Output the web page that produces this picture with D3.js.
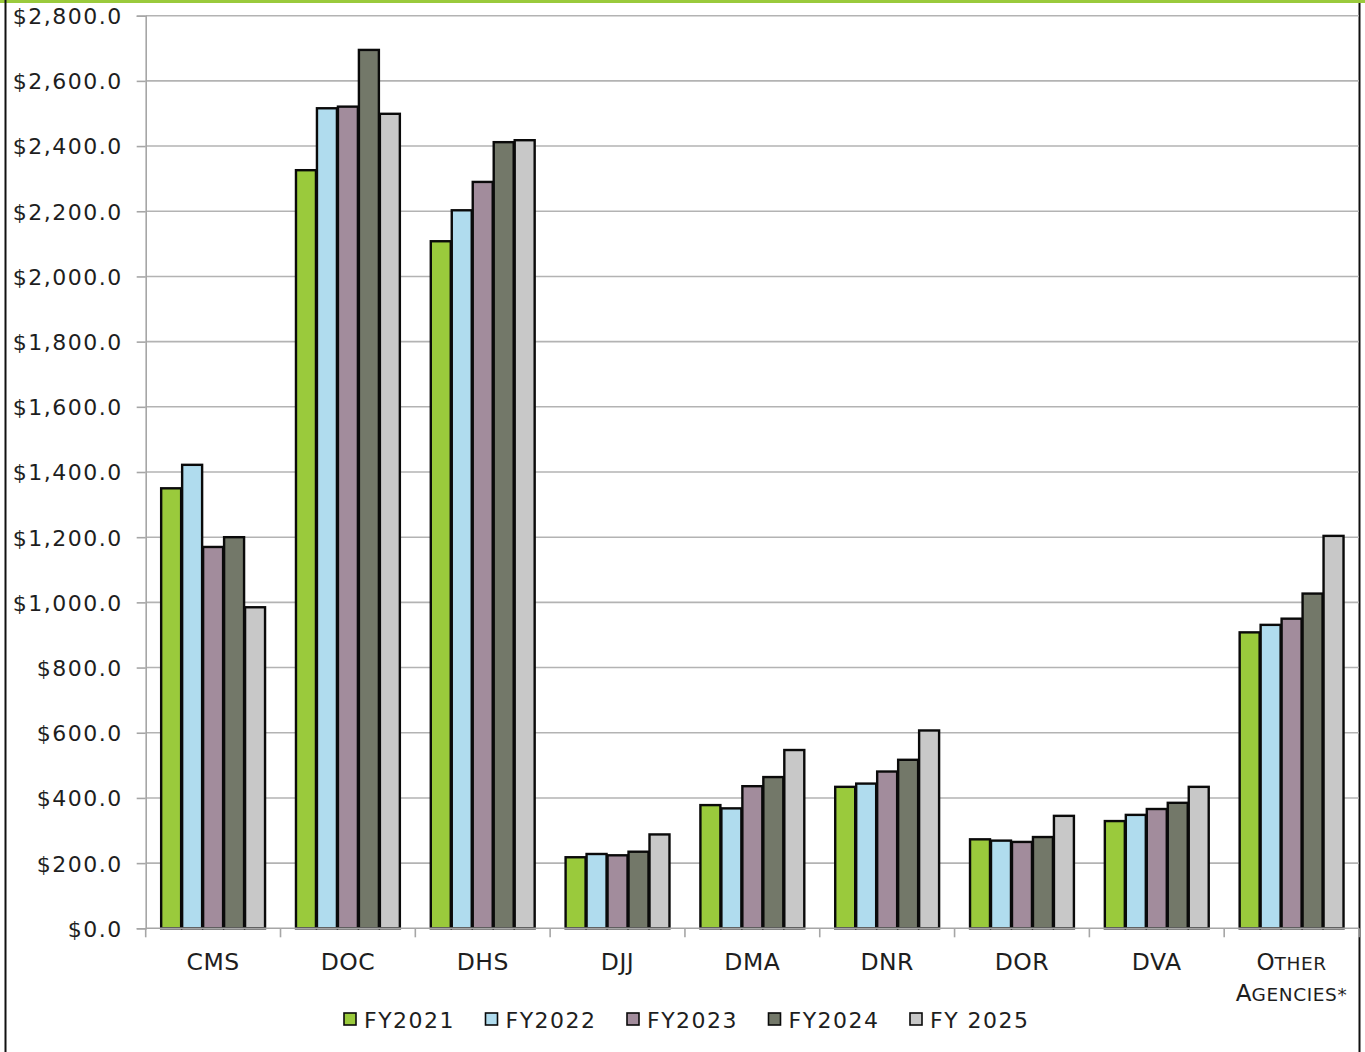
<!DOCTYPE html>
<html>
<head>
<meta charset="utf-8">
<script src="https://cdn.jsdelivr.net/npm/d3@7"></script>
<style>
  html, body { margin: 0; padding: 0; background: #fff; }
  svg { display: block; }
  text { font-family: "DejaVu Sans", sans-serif; fill: #1e1e1e; }
</style>
</head>
<body>
<svg id="chart" width="1365" height="1052"></svg>
<script>
// Agency spending by fiscal year (millions of dollars)
const agencies = ["CMS", "DOC", "DHS", "DJJ", "DMA", "DNR", "DOR", "DVA", "OTHER"];
const seriesNames = ["FY2021", "FY2022", "FY2023", "FY2024", "FY 2025"];
const fy2021 = [1350, 2326, 2108, 218, 378, 434, 273, 329, 908];
const fy2022 = [1422, 2516, 2203, 228, 368, 444, 269, 348, 931];
const fy2023 = [1170, 2521, 2290, 224, 436, 481, 265, 366, 950];
const fy2024 = [1200, 2695, 2412, 235, 464, 517, 280, 385, 1027];
const fy2025 = [985, 2499, 2418, 288, 547, 607, 345, 434, 1204];
const seriesValues = [fy2021, fy2022, fy2023, fy2024, fy2025];
const seriesColors = ["#9aca3c", "#b0dcee", "#a28c9c", "#737869", "#c8c8c8"];
const yTicks = [0, 200, 400, 600, 800, 1000, 1200, 1400, 1600, 1800, 2000, 2200, 2400, 2600, 2800];

const svg = d3.select("#chart");
const W = 1365, H = 1052;
const plot = { left: 145.7, right: 1359, top: 15.7, bottom: 928.3 };

// frame: green rule on top, thin black sides
svg.append("rect").attr("x", 0).attr("y", 0).attr("width", W).attr("height", 3).attr("fill", "#9aca3c");
svg.append("line").attr("x1", 5.5).attr("x2", 5.5).attr("y1", 0).attr("y2", H)
  .attr("stroke", "#111").attr("stroke-width", 2);
svg.append("line").attr("x1", 1359.5).attr("x2", 1359.5).attr("y1", 3).attr("y2", H)
  .attr("stroke", "#111").attr("stroke-width", 2);

const y = d3.scaleLinear().domain([0, 2800]).range([plot.bottom, plot.top]);
const x0 = d3.scaleBand().domain(agencies).range([plot.left, plot.right]).padding(0);
const gpad = x0.bandwidth() * 0.111;
const x1 = d3.scaleBand().domain(seriesNames).range([gpad, x0.bandwidth() - gpad]).padding(0);

// horizontal gridlines
svg.append("g").selectAll("line").data(yTicks.filter(d => d > 0)).join("line")
  .attr("x1", plot.left).attr("x2", plot.right)
  .attr("y1", d => y(d)).attr("y2", d => y(d))
  .attr("stroke", "#b3b3b3").attr("stroke-width", 1.6);

// y axis
const yAxis = d3.axisLeft(y).tickValues(yTicks).tickSize(9).tickPadding(14)
  .tickFormat(d => "$" + d3.format(",.1f")(d));
const gy = svg.append("g").attr("transform", `translate(${plot.left},0)`).call(yAxis);
gy.select(".domain").attr("stroke", "#a6a6a6").attr("stroke-width", 1.6);
gy.selectAll(".tick line").attr("stroke", "#a6a6a6").attr("stroke-width", 1.6);
gy.selectAll(".tick text")
  .attr("font-family", "DejaVu Sans, sans-serif")
  .attr("font-size", 22).attr("letter-spacing", 1.5).attr("fill", "#1e1e1e")
  .attr("dy", "0.36em");

// bars
const rows = agencies.map((a, i) => ({ agency: a, vals: seriesNames.map((s, j) => ({ s, j, v: seriesValues[j][i] })) }));
const groups = svg.append("g").selectAll("g").data(rows).join("g")
  .attr("transform", d => `translate(${x0(d.agency)},0)`);
groups.selectAll("rect").data(d => d.vals).join("rect")
  .attr("x", d => x1(d.s) + 0.5)
  .attr("width", x1.bandwidth() - 1)
  .attr("y", d => y(d.v))
  .attr("height", d => y(0) - y(d.v))
  .attr("fill", d => seriesColors[d.j])
  .attr("stroke", "#0a0a0a").attr("stroke-width", 2.4);

// x axis baseline and boundary ticks
svg.append("line").attr("x1", plot.left).attr("x2", plot.right)
  .attr("y1", plot.bottom).attr("y2", plot.bottom)
  .attr("stroke", "#a6a6a6").attr("stroke-width", 1.6);
const boundaries = agencies.map(a => x0(a)).concat([plot.right]);
svg.append("g").selectAll("line").data(boundaries).join("line")
  .attr("x1", d => d).attr("x2", d => d)
  .attr("y1", plot.bottom).attr("y2", plot.bottom + 9)
  .attr("stroke", "#a6a6a6").attr("stroke-width", 1.6);

// category labels
const catG = svg.append("g");
agencies.forEach(a => {
  const cx = x0(a) + x0.bandwidth() / 2;
  if (a === "OTHER") {
    const t1 = catG.append("text").attr("x", cx).attr("y", 970).attr("text-anchor", "middle");
    t1.append("tspan").attr("font-size", 23).text("O");
    t1.append("tspan").attr("font-size", 18.5).attr("letter-spacing", 0.6).text("THER");
    const t2 = catG.append("text").attr("x", cx).attr("y", 1001).attr("text-anchor", "middle");
    t2.append("tspan").attr("font-size", 23).text("A");
    t2.append("tspan").attr("font-size", 18.5).attr("letter-spacing", 0.6).text("GENCIES*");
  } else {
    catG.append("text").attr("x", cx).attr("y", 970).attr("text-anchor", "middle")
      .attr("font-size", 23.5).attr("letter-spacing", 0.5).text(a);
  }
});

// legend
const legend = svg.append("g").attr("transform", "translate(344,0)");
const items = legend.selectAll("g").data(seriesNames).join("g")
  .attr("transform", (d, i) => `translate(${i * 141.5},0)`);
items.append("rect").attr("x", 0).attr("y", 1013).attr("width", 12).attr("height", 12)
  .attr("fill", (d, i) => seriesColors[i]).attr("stroke", "#0a0a0a").attr("stroke-width", 1.6);
items.append("text").attr("x", 20).attr("y", 1027.5)
  .attr("font-size", 22).attr("letter-spacing", 1.5).text(d => d);
</script>
</body>
</html>
